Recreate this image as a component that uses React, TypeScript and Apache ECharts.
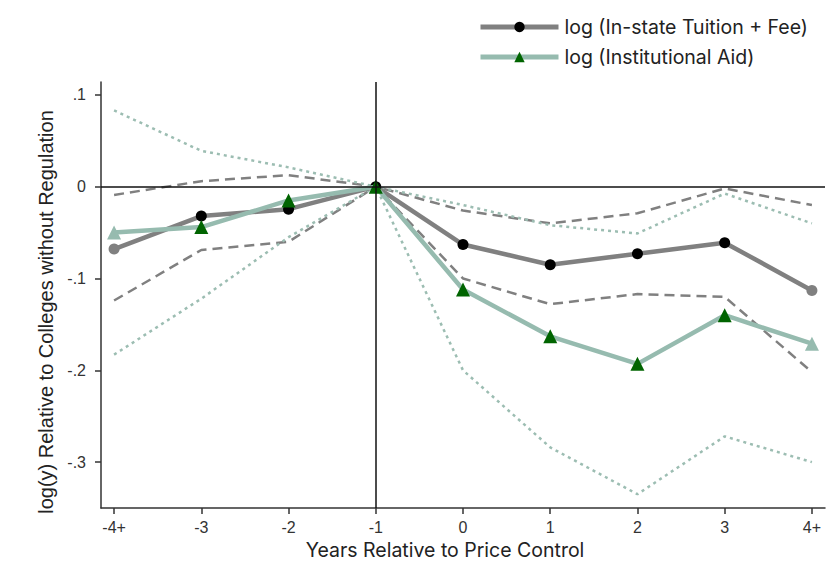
import React, { useEffect, useRef } from "react";
import * as echarts from "echarts";

const xValues = [-4, -3, -2, -1, 0, 1, 2, 3, 4];
const xLabels = ["-4+", "-3", "-2", "-1", "0", "1", "2", "3", "4+"];
const yTicks = [-0.3, -0.2, -0.1, 0, 0.1];
const yTickLabels = ["-.3", "-.2", "-.1", "0", ".1"];

const tuition = [-0.068, -0.032, -0.0245, 0, -0.063, -0.085, -0.073, -0.061, -0.113];
const tuitionUpper = [-0.009, 0.006, 0.0125, 0, -0.026, -0.04, -0.029, -0.002, -0.02];
const tuitionLower = [-0.124, -0.069, -0.06, 0, -0.1, -0.128, -0.117, -0.12, -0.202];

const aid = [-0.05, -0.044, -0.015, 0, -0.112, -0.163, -0.193, -0.14, -0.171];
const aidUpper = [0.083, 0.039, 0.021, 0, -0.02, -0.042, -0.051, -0.0075, -0.04];
const aidLower = [-0.183, -0.122, -0.055, 0, -0.2, -0.284, -0.335, -0.272, -0.3];

const GREY = "#808080";
const LIGHT_GREEN = "#96bbaf";
const DOT_GREEN = "#9cbdb2";
const DARK_GREEN = "#006400";

const TUITION_NAME = "log (In-state Tuition + Fee)";
const AID_NAME = "log (Institutional Aid)";

const pairs = (ys: number[]) => xValues.map((x, i) => [x, ys[i]]);

const markerData = (ys: number[], endColor: string, midColor: string) =>
  xValues.map((x, i) => ({
    value: [x, ys[i]],
    itemStyle: { color: i === 0 || i === xValues.length - 1 ? endColor : midColor },
  }));

export default function App() {
  const ref = useRef<HTMLDivElement>(null);
  useEffect(() => {
    if (!ref.current) return;
    const chart = echarts.init(ref.current, null, { renderer: "svg" });
    chart.setOption({
      animation: false,
      backgroundColor: "#ffffff",
      grid: { left: 101, right: 5, top: 82, bottom: 72 },
      legend: {
        orient: "vertical",
        left: 473,
        top: 12,
        itemWidth: 78,
        itemHeight: 13,
        itemGap: 10,
        textStyle: { fontFamily: "Inter", fontSize: 19.5, color: "#222", padding: [0, 0, 0, 1] },
        data: [
          { name: TUITION_NAME, lineStyle: { width: 5 } },
          { name: AID_NAME, lineStyle: { width: 5 } },
        ],
      },
      xAxis: {
        type: "value",
        min: -4.15,
        max: 4.15,
        splitLine: { show: false },
        axisLine: { onZero: false, lineStyle: { color: "#333", width: 1.5 } },
        axisTick: { customValues: xValues, length: 6, lineStyle: { color: "#333", width: 1.5 } },
        axisLabel: {
          customValues: xValues,
          margin: 11,
          fontFamily: "Liberation Sans",
          fontSize: 16,
          color: "#333",
          formatter: (v: number) => xLabels[xValues.indexOf(Math.round(v))] ?? "",
        },
        name: "Years Relative to Price Control",
        nameLocation: "middle",
        nameGap: 32,
        nameTextStyle: { fontFamily: "Inter", fontSize: 19.5, color: "#222", padding: [0, 36, 0, 0] },
      },
      yAxis: {
        type: "value",
        min: -0.35,
        max: 0.114,
        splitLine: { show: false },
        axisLine: { onZero: false, lineStyle: { color: "#333", width: 1.5 } },
        axisTick: { customValues: yTicks, length: 6, lineStyle: { color: "#333", width: 1.5 } },
        axisLabel: {
          customValues: yTicks,
          margin: 15,
          fontFamily: "Liberation Sans",
          fontSize: 16,
          color: "#333",
          formatter: (v: number) => {
            let best = 0;
            yTicks.forEach((t, i) => {
              if (Math.abs(t - v) < Math.abs(yTicks[best] - v)) best = i;
            });
            return yTickLabels[best];
          },
        },
        name: "log(y) Relative to Colleges without Regulation",
        nameLocation: "middle",
        nameGap: 44,
        nameTextStyle: { fontFamily: "Liberation Sans", fontSize: 20, color: "#222", padding: [0, 34, 0, 0] },
      },
      series: [
        {
          name: "tuitionUpper",
          type: "line",
          data: pairs(tuitionUpper),
          symbol: "none",
          lineStyle: { color: GREY, width: 2.5, type: [10, 6] },
          silent: true,
          markLine: {
            silent: true,
            symbol: "none",
            label: { show: false },
            lineStyle: { color: "#111", width: 1.5, type: "solid" },
            data: [{ yAxis: 0 }, { xAxis: -1 }],
          },
          z: 1,
        },
        {
          name: "tuitionLower",
          type: "line",
          data: pairs(tuitionLower),
          symbol: "none",
          lineStyle: { color: GREY, width: 2.5, type: [10, 6] },
          silent: true,
          z: 1,
        },
        {
          name: "aidUpper",
          type: "line",
          data: pairs(aidUpper),
          symbol: "none",
          lineStyle: { color: DOT_GREEN, width: 2.5, type: [3, 4] },
          silent: true,
          z: 1,
        },
        {
          name: "aidLower",
          type: "line",
          data: pairs(aidLower),
          symbol: "none",
          lineStyle: { color: DOT_GREEN, width: 2.5, type: [3, 4] },
          silent: true,
          z: 1,
        },
        {
          name: TUITION_NAME,
          type: "line",
          data: markerData(tuition, GREY, "#000"),
          symbol: "circle",
          symbolSize: 11,
          itemStyle: { color: "#000" },
          lineStyle: { color: GREY, width: 4.5 },
          z: 3,
        },
        {
          name: AID_NAME,
          type: "line",
          data: markerData(aid, LIGHT_GREEN, DARK_GREEN),
          symbol: "triangle",
          symbolSize: 14,
          itemStyle: { color: DARK_GREEN },
          lineStyle: { color: LIGHT_GREEN, width: 4.5 },
          z: 4,
        },
      ],
    });
    return () => chart.dispose();
  }, []);
  return <div ref={ref} style={{ width: 830, height: 580, position: "absolute", left: 0, top: 0 }} />;
}
